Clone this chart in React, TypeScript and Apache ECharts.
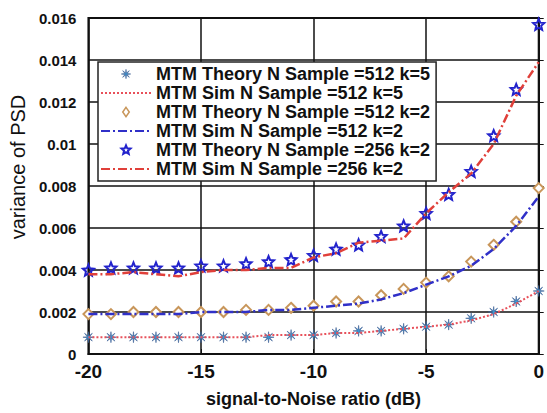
import React, { useEffect, useRef } from "react";
import * as echarts from "echarts";

const snr = [-20, -19, -18, -17, -16, -15, -14, -13, -12, -11, -10, -9, -8, -7, -6, -5, -4, -3, -2, -1, 0];
const theory512k5 = [0.0008, 0.0008, 0.0008, 0.0008, 0.0008, 0.0008, 0.0008, 0.0008, 0.0008, 0.0009, 0.0009, 0.001, 0.0011, 0.0011, 0.0012, 0.0013, 0.0014, 0.0017, 0.002, 0.0025, 0.003];
const sim512k5 = [0.0008, 0.0008, 0.0008, 0.0008, 0.0008, 0.0008, 0.0008, 0.0008, 0.0009, 0.0009, 0.0009, 0.001, 0.001, 0.0011, 0.0012, 0.0013, 0.0014, 0.0016, 0.0019, 0.0024, 0.003];
const theory512k2 = [0.0019, 0.0019, 0.002, 0.002, 0.002, 0.002, 0.002, 0.0021, 0.0021, 0.0022, 0.0023, 0.0025, 0.0025, 0.0028, 0.0031, 0.0034, 0.0037, 0.0044, 0.0052, 0.0063, 0.0079];
const sim512k2 = [0.0019, 0.0019, 0.0019, 0.0019, 0.0019, 0.002, 0.002, 0.002, 0.0021, 0.0021, 0.0022, 0.0023, 0.0024, 0.0026, 0.0029, 0.0033, 0.0037, 0.0042, 0.005, 0.0061, 0.0075];
const theory256k2 = [0.004, 0.0041, 0.0041, 0.0041, 0.0041, 0.0042, 0.0042, 0.0043, 0.0044, 0.0045, 0.0047, 0.005, 0.0052, 0.0056, 0.0061, 0.0067, 0.0076, 0.0087, 0.0104, 0.0126, 0.0157];
const sim256k2 = [0.0038, 0.0038, 0.0039, 0.0038, 0.0037, 0.0039, 0.004, 0.004, 0.0041, 0.0041, 0.0046, 0.0048, 0.0053, 0.0054, 0.0055, 0.0067, 0.0077, 0.0086, 0.01, 0.0123, 0.0139];

const seriesNames = [
  "MTM Theory N Sample =512 k=5",
  "MTM Sim N Sample =512 k=5",
  "MTM Theory N Sample =512 k=2",
  "MTM Sim N Sample =512 k=2",
  "MTM Theory N Sample =256 k=2",
  "MTM Sim N Sample =256 k=2",
];

function starPts(points: number, rOut: number, rIn: number): string {
  const pts: string[] = [];
  for (let i = 0; i < points * 2; i++) {
    const a = (Math.PI * i) / points - Math.PI / 2;
    const r = i % 2 === 0 ? rOut : rIn;
    pts.push(`${(r * Math.cos(a)).toFixed(3)},${(r * Math.sin(a)).toFixed(3)}`);
  }
  return "M" + pts.join("L") + "Z";
}

const asteriskD = starPts(8, 10, 2.4);
const pentagramD = starPts(5, 10, 4.5);
const diamondD = "M0,-10L7,0L0,10L-7,0Z";
const pad = "M-15,-15M15,15";
const asterisk = "path://" + asteriskD;
const pentagram = "path://" + pentagramD;

const zip = (ys: number[]) => snr.map((x, i) => [x, ys[i]]);

export default function App() {
  const ref = useRef<HTMLDivElement>(null);
  useEffect(() => {
    if (!ref.current) return;
    const chart = echarts.init(ref.current, null, { renderer: "svg" });
    const font = "'Liberation Sans', Arial, sans-serif";
    const theory = (name: string, ys: number[], symbol: string, size: number, itemStyle: any) => ({
      name,
      type: "line",
      data: zip(ys),
      symbol,
      symbolSize: size,
      showSymbol: true,
      showAllSymbol: true,
      lineStyle: { width: 0, opacity: 0 },
      itemStyle,
      z: 3,
    });
    const sim = (name: string, ys: number[], color: string, width: number, type: any) => ({
      name,
      type: "line",
      data: zip(ys),
      symbol: "none",
      lineStyle: { color, width, type },
      itemStyle: { color },
      z: 4,
    });
    const blueAst = { color: "#3a9ad8", borderColor: "#3a5a90", borderWidth: 0.6 };
    const tanDia = { color: "#fff", borderColor: "#c8965a", borderWidth: 1.5 };
    const blueStar = { color: "rgba(255,255,255,0)", borderColor: "#2222cc", borderWidth: 2 };
    chart.setOption({
      animation: false,
      backgroundColor: "#fff",
      textStyle: { fontFamily: font },
      grid: { left: 83, right: 7, top: 18, bottom: 53, show: true, borderColor: "#111", borderWidth: 2 },
      legend: {
        orient: "vertical",
        left: 98,
        top: 62,
        itemWidth: 50,
        itemHeight: 14,
        itemGap: 1,
        padding: [3, 6, 3, 2],
        backgroundColor: "#fff",
        borderColor: "#222",
        borderWidth: 1.5,
        textStyle: { fontSize: 18, lineHeight: 17, fontWeight: "bold", color: "#111", fontFamily: font },
        data: [
          { name: seriesNames[0], icon: "path://" + pad + asteriskD, itemStyle: blueAst },
          { name: seriesNames[1], itemStyle: { opacity: 0 } },
          { name: seriesNames[2], icon: "path://" + pad + diamondD, itemStyle: tanDia },
          { name: seriesNames[3], itemStyle: { opacity: 0 } },
          { name: seriesNames[4], icon: "path://" + pad + pentagramD, itemStyle: blueStar },
          { name: seriesNames[5], itemStyle: { opacity: 0 } },
        ],
      },
      xAxis: {
        type: "value",
        min: -20,
        max: 0,
        interval: 5,
        name: "signal-to-Noise ratio (dB)",
        nameLocation: "middle",
        nameGap: 36,
        nameTextStyle: { fontSize: 18, fontWeight: "bold", color: "#111", fontFamily: font },
        axisLine: { lineStyle: { color: "#111", width: 2 } },
        axisTick: { inside: true, length: 5, lineStyle: { color: "#111" } },
        axisLabel: { fontSize: 19, fontWeight: "bold", color: "#111", margin: 8, fontFamily: font },
        splitLine: { show: true, lineStyle: { color: "#111", width: 1.5 } },
      },
      yAxis: {
        type: "value",
        min: 0,
        max: 0.016,
        interval: 0.002,
        name: "variance of PSD",
        nameLocation: "middle",
        nameGap: 38,
        nameTextStyle: { fontSize: 20, color: "#111", fontFamily: font, padding: [0, 0, 0, 38] },
        axisLine: { lineStyle: { color: "#111", width: 2 } },
        axisTick: { inside: true, length: 5, lineStyle: { color: "#111" } },
        axisLabel: { fontSize: 15, fontWeight: "bold", color: "#111", margin: 12, fontFamily: font },
        splitLine: { show: true, lineStyle: { color: "#111", width: 1.5 } },
      },
      series: [
        theory(seriesNames[0], theory512k5, asterisk, 11, blueAst),
        sim(seriesNames[1], sim512k5, "#e8505a", 2, [2, 2]),
        theory(seriesNames[2], theory512k2, "emptyDiamond", 10, { color: "#c8965a", borderColor: "#c8965a", borderWidth: 1.5 }),
        sim(seriesNames[3], sim512k2, "#3030c8", 2.5, [9, 3, 2, 3]),
        theory(seriesNames[4], theory256k2, pentagram, 11, blueStar),
        sim(seriesNames[5], sim256k2, "#e0403a", 2.5, [9, 3, 2, 3]),
      ],
    });
    return () => chart.dispose();
  }, []);
  return <div ref={ref} style={{ width: 547, height: 413, position: "absolute", left: 0, top: 0 }} />;
}
